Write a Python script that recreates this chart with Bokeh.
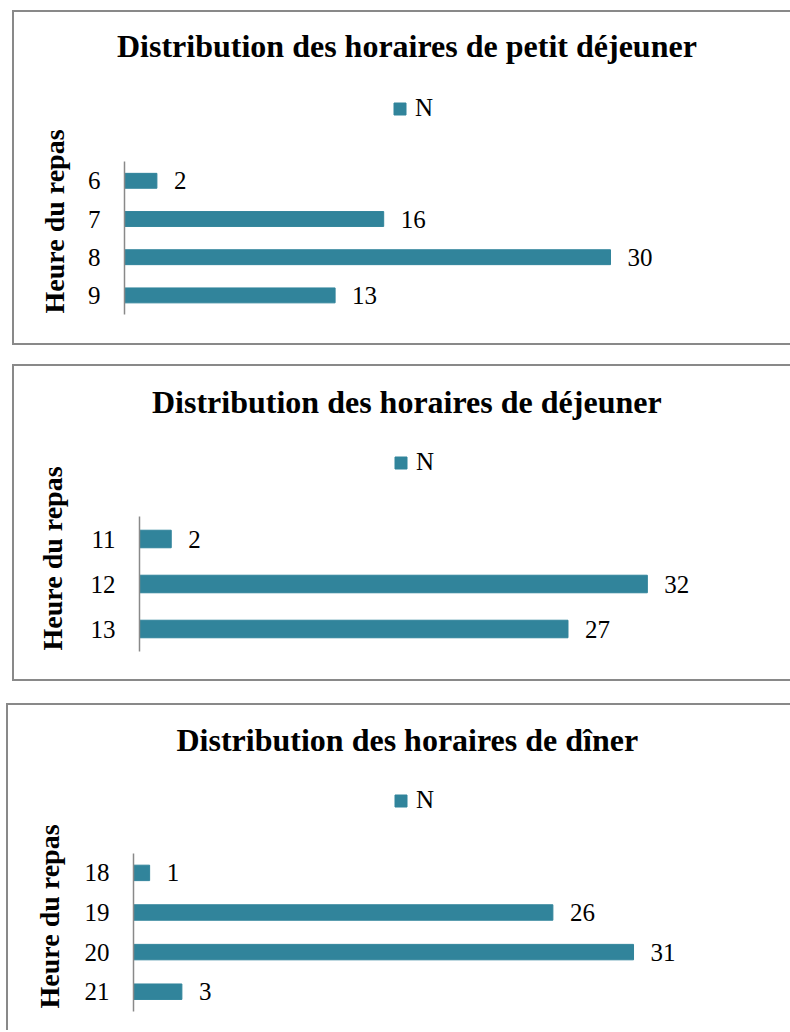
from bokeh.plotting import figure
from bokeh.layouts import column
from bokeh.models import Range1d, FixedTicker, Title
from bokeh.embed import file_html
from bokeh.resources import INLINE
from bokeh.core.properties import value

# ---------------- data ----------------
chart_titles = [
    "Distribution des horaires de petit déjeuner",
    "Distribution des horaires de déjeuner",
    "Distribution des horaires de dîner",
]
breakfast_hours = [6, 7, 8, 9]
breakfast_n = [2, 16, 30, 13]
lunch_hours = [11, 12, 13]
lunch_n = [2, 32, 27]
dinner_hours = [18, 19, 20, 21]
dinner_n = [1, 26, 31, 3]
axis_title = "Heure du repas"
series_name = "N"

# ---------------- style / layout ----------------
FONT = "Liberation Serif"
BAR = "#31849b"
FRAME_GRAY = "#898989"
LEG_H = 29

layouts = [
    dict(w=776, h=331, css_margin="10px 0 0 12px", border_bottom=True,
         left=110, top=56, bottom=302, cat_px=38.2, unit_px=16.2,
         title_offset=-7.5, legend_x=268, legend_top=81,
         ytitle_standoff=29, ytitle_offset=1),
    dict(w=776, h=313, css_margin="19px 0 0 12px", border_bottom=True,
         left=125, top=58, bottom=285, cat_px=45.0, unit_px=15.87,
         title_offset=12.5, legend_x=254, legend_top=81,
         ytitle_standoff=40, ytitle_offset=1),
    dict(w=782, h=325, css_margin="22px 0 0 6px", border_bottom=False,
         left=125, top=57, bottom=306, cat_px=39.6, unit_px=16.13,
         title_offset=43, legend_x=260, legend_top=80,
         ytitle_standoff=34, ytitle_offset=3),
]
datasets = [
    (breakfast_hours, breakfast_n),
    (lunch_hours, lunch_n),
    (dinner_hours, dinner_n),
]


def make_panel(title, hours, counts, L):
    W = L["w"]
    frame_w = W - L["left"]
    frame_h = L["bottom"] - L["top"]
    y_start = max(hours) + 0.5
    y_end = y_start - frame_h / L["cat_px"]
    p = figure(
        width=W, height=L["h"], output_backend="svg", toolbar_location=None,
        x_range=Range1d(0, frame_w / L["unit_px"]),
        y_range=Range1d(y_start, y_end),
        x_axis_location=None, title=title,
        min_border_left=L["left"], min_border_right=0,
        min_border_top=L["top"], min_border_bottom=L["h"] - L["bottom"],
    )
    p.outline_line_color = None
    p.background_fill_color = "white"
    p.border_fill_color = "white"
    p.xgrid.visible = False
    p.ygrid.visible = False

    p.title.text_font = FONT
    p.title.text_font_size = "32px"
    p.title.text_font_style = "bold"
    p.title.text_color = "black"
    p.title.align = "left"
    p.title.offset = L["title_offset"]

    ax = p.yaxis[0]
    ax.ticker = FixedTicker(ticks=hours)
    ax.bounds = (min(hours) - 0.5, max(hours) + 0.5)
    ax.axis_line_color = FRAME_GRAY
    ax.axis_line_width = 1.5
    ax.major_tick_line_color = None
    ax.minor_tick_line_color = None
    ax.major_tick_out = 0
    ax.major_tick_in = 0
    ax.major_label_standoff = 24
    ax.major_label_text_font = FONT
    ax.major_label_text_font_size = "25px"
    ax.major_label_text_color = "black"

    ytitle = Title(text=axis_title, align="left", offset=L["ytitle_offset"],
                   text_font=FONT, text_font_size="28px", text_font_style="bold",
                   text_color="black", standoff=L["ytitle_standoff"])
    p.add_layout(ytitle, "left")

    p.hbar(y=hours, right=counts, left=0, height=0.39, color=BAR,
           legend_label=series_name)
    p.text(x=counts, y=hours, text=[str(c) for c in counts], x_offset=17,
           text_baseline="middle", text_align="left",
           text_font=value(FONT), text_font_size="25px", text_color="black")

    lg = p.legend[0]
    lg.location = (L["legend_x"], L["bottom"] - L["legend_top"] - LEG_H)
    lg.padding = 0
    lg.margin = 0
    lg.spacing = 0
    lg.glyph_width = 15
    lg.glyph_height = 15
    lg.label_standoff = 8
    lg.label_text_font = FONT
    lg.label_text_font_size = "25px"
    lg.label_text_color = "black"
    lg.border_line_color = None
    lg.background_fill_alpha = 0

    border = f"2px solid {FRAME_GRAY}"
    styles = {"box-sizing": "content-box", "margin": L["css_margin"],
              "border-left": border, "border-top": border}
    if L["border_bottom"]:
        styles["border-bottom"] = border
    return column(p, styles=styles)


panels = [make_panel(t, d[0], d[1], L) for t, d, L in zip(chart_titles, datasets, layouts)]

open("out.html", "w").write(file_html(panels, INLINE))
